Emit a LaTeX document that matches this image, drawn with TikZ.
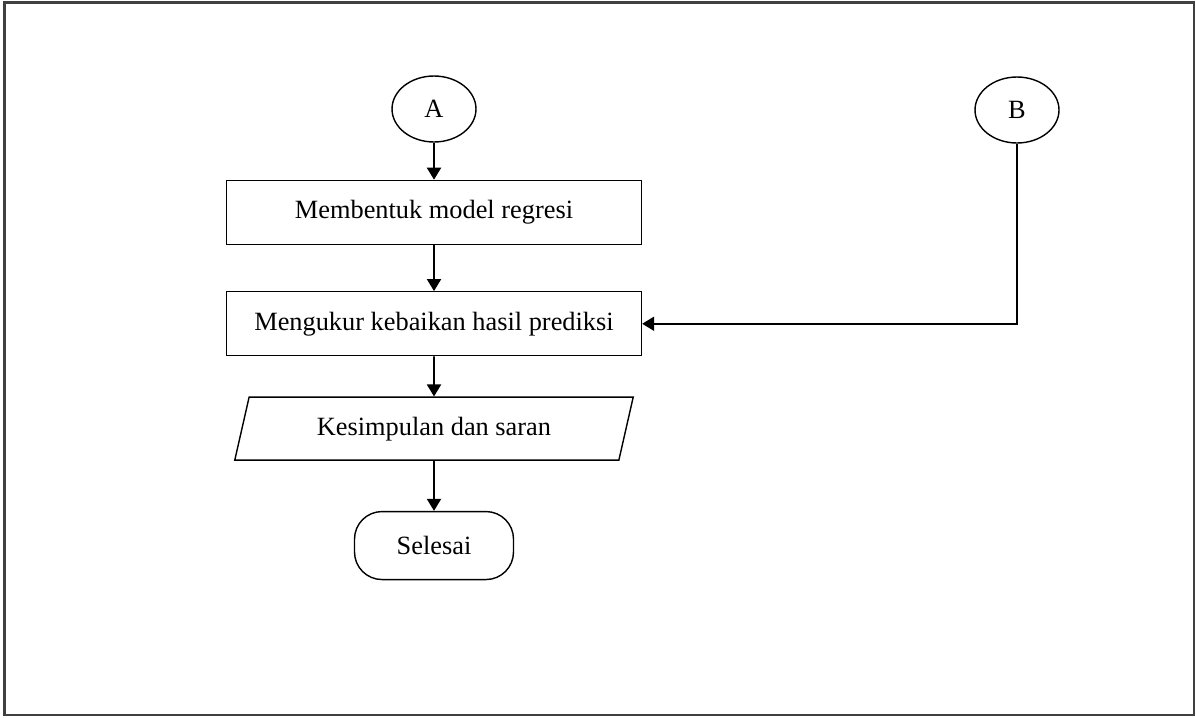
\documentclass[tikz,border=0pt]{standalone}
\usepackage{fontspec}
\setmainfont{Liberation Serif}
\usepackage{tikz}
\usetikzlibrary{shapes.geometric, arrows.meta, positioning}

\begin{document}
\begin{tikzpicture}[
    x=0.02cm, y=-0.02cm,
    every node/.style={font=\fontsize{15}{18}\selectfont},
    konektor/.style={draw, ellipse, minimum width=1.68cm, minimum height=1.32cm, inner sep=0pt, thick},
    proses/.style={draw, rectangle, minimum width=8.3cm, minimum height=1.28cm, align=center, thick},
    dataio/.style={draw, trapezium, trapezium left angle=75, trapezium right angle=105, trapezium stretches=true, minimum width=7.98cm, minimum height=1.26cm, thick},
    terminal/.style={draw, rectangle, rounded corners=0.55cm, minimum width=3.18cm, minimum height=1.36cm, thick},
    arrow/.style={-{Triangle[width=0.28cm, length=0.24cm]}, line width=1.1pt, draw=black}
]
% frame
\useasboundingbox (0,0) rectangle (1196,717);
\draw[black!75, line width=1.2pt] (4.5,2.5) rectangle (1194,715);

\node[konektor] (a) at (434,109) {A};
\node[konektor] (b) at (1017,110) {B};
\node[proses, below=0.74cm of a] (model) {Membentuk model regresi};
\node[proses, below=0.92cm of model] (ukur) {Mengukur kebaikan hasil prediksi};
\node[dataio, below=0.8cm of ukur] (simpul) {Kesimpulan dan saran};
\node[terminal, below=1.0cm of simpul] (selesai) {Selesai};

\draw[arrow] (a) -- (model);
\draw[arrow] (model) -- (ukur);
\draw[arrow] (ukur) -- (simpul);
\draw[arrow] (simpul) -- (selesai);

% dari konektor B
\draw[arrow] (b.south) |- (ukur.east);

\end{tikzpicture}
\end{document}
